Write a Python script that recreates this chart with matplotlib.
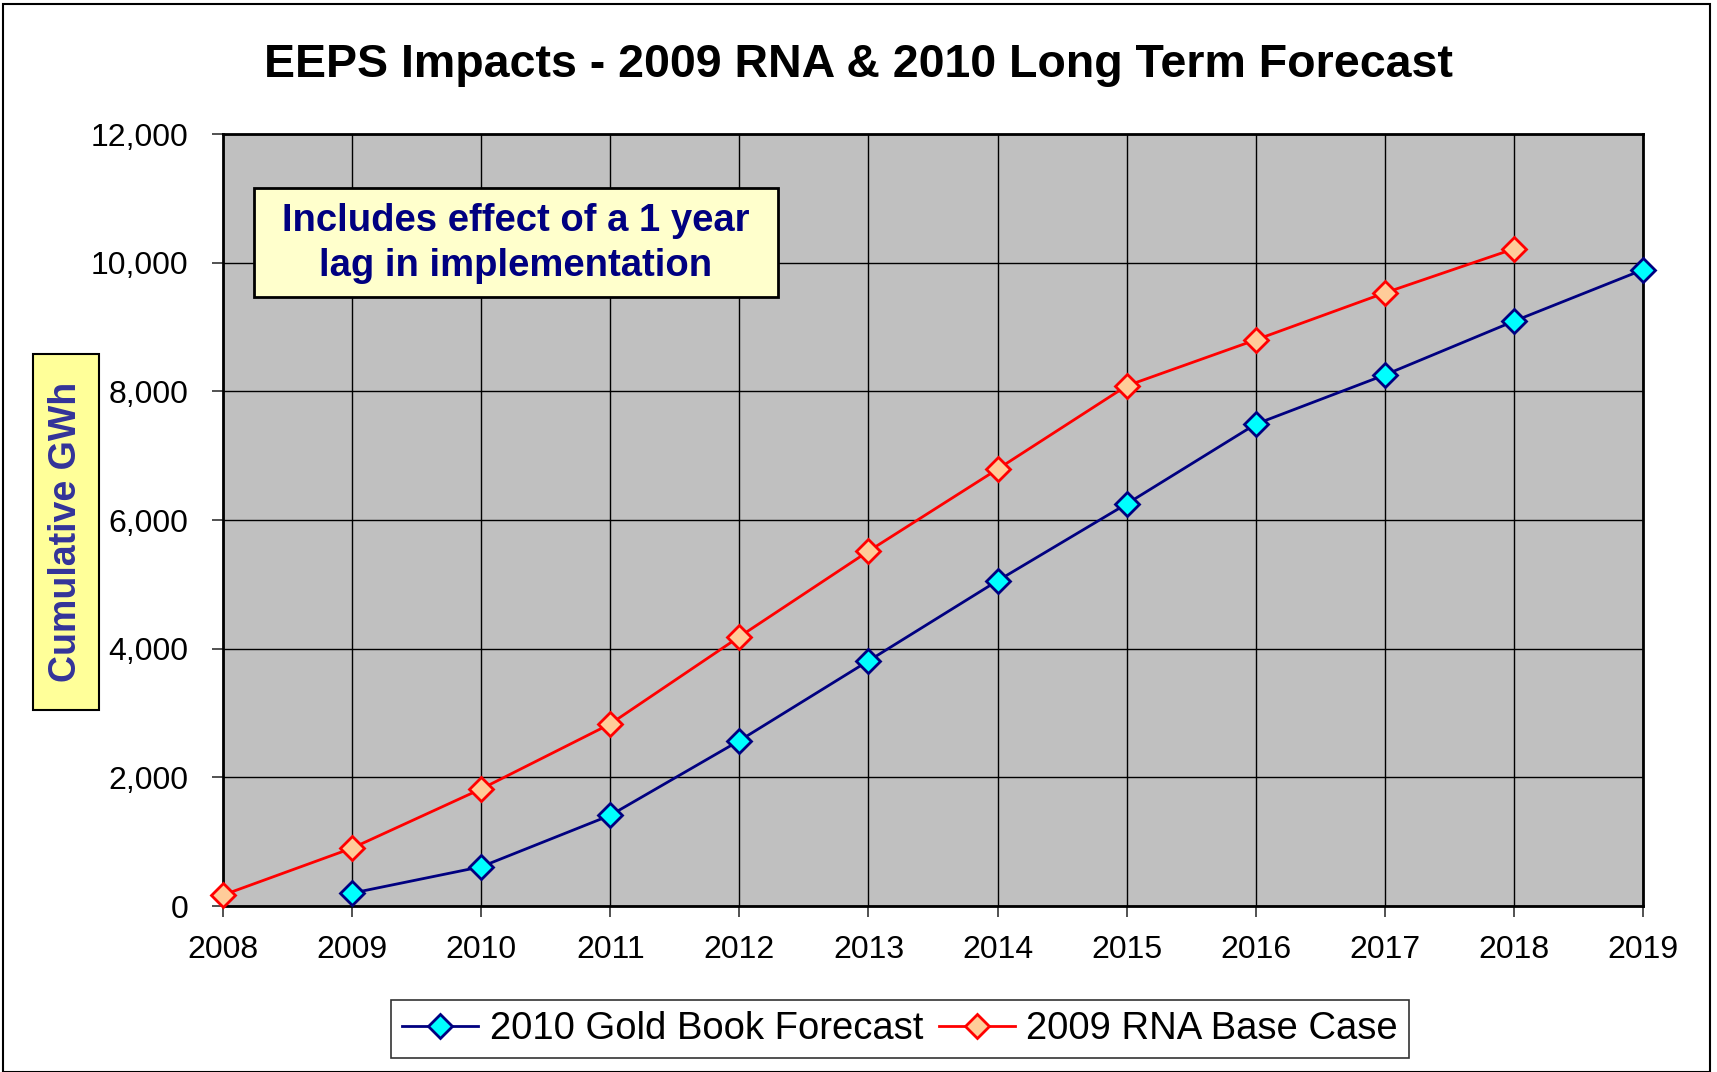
import matplotlib.pyplot as plt
import numpy as np
from matplotlib.patches import Rectangle
from matplotlib.ticker import FuncFormatter

plt.rcParams['font.family'] = ['Liberation Sans', 'DejaVu Sans']

# data
years_gold = [2009, 2010, 2011, 2012, 2013, 2014, 2015, 2016, 2017, 2018, 2019]
gold_book = [200, 610, 1410, 2570, 3810, 5055, 6250, 7490, 8255, 9090, 9890]

years_rna = [2008, 2009, 2010, 2011, 2012, 2013, 2014, 2015, 2016, 2017, 2018]
rna_base = [170, 900, 1820, 2830, 4185, 5515, 6790, 8085, 8800, 9530, 10215]

xticks = list(range(2008, 2020))
yticks = [0, 2000, 4000, 6000, 8000, 10000, 12000]

W, H = 1717, 1072
fig = plt.figure(figsize=(W / 100, H / 100), dpi=100)
ax = fig.add_axes([223 / W, 1 - 906 / H, (1643 - 223) / W, (906 - 134) / H])
ax.set_facecolor('#C0C0C0')

ax.plot(years_gold, gold_book, color='#000080', lw=2, marker='D', ms=12,
        mfc='#00FFFF', mec='#000080', mew=2, label='2010 Gold Book Forecast',
        zorder=5, clip_on=False)
ax.plot(years_rna, rna_base, color='#FF0000', lw=2, marker='D', ms=12,
        mfc='#FFCC99', mec='#FF0000', mew=2, label='2009 RNA Base Case',
        zorder=5, clip_on=False)

ax.set_xlim(2008, 2019)
ax.set_ylim(0, 12000)
ax.set_xticks(xticks)
ax.set_yticks(yticks)
ax.yaxis.set_major_formatter(FuncFormatter(lambda v, p: f'{int(v):,}'))
ax.grid(True, color='black', lw=1)
ax.set_axisbelow(True)
ax.tick_params(axis='both', labelsize=23, length=8, width=1.2, color='#333333')
ax.tick_params(axis='x', pad=13)
ax.tick_params(axis='y', pad=17)
for s in ax.spines.values():
    s.set_color('black')
    s.set_linewidth(2)

# title
fig.text(0.5, 1 - 65 / H, 'EEPS Impacts - 2009 RNA & 2010 Long Term Forecast',
         ha='center', va='center', fontsize=33.5, fontweight='bold')

# note box
ax.add_patch(Rectangle((0.0216, 0.789), 0.391 - 0.0216, 0.930 - 0.789,
                       transform=ax.transAxes, fc='#FFFFCC', ec='black', lw=2, zorder=6))
ax.text(0.206, 0.858, 'Includes effect of a 1 year\nlag in implementation',
        transform=ax.transAxes, ha='center', va='center', fontsize=27.5,
        fontweight='bold', color='#000080', linespacing=1.3, zorder=7)

# y label box
fig.patches.append(Rectangle((33 / W, 1 - 710 / H), 66 / W, 356 / H,
                             transform=fig.transFigure, fc='#FFFF99', ec='black', lw=1.5))
fig.text(66 / W, 1 - 532 / H, 'Cumulative GWh', rotation=90, ha='center', va='center',
         fontsize=27, fontweight='bold', color='#333399')

leg = fig.legend(loc='center', bbox_to_anchor=(900 / W, 43 / H), ncol=2,
                 fontsize=27.5, frameon=True, fancybox=False, edgecolor='black',
                 handlelength=2.0, handletextpad=0.3, columnspacing=0.4,
                 borderpad=0.3, borderaxespad=0.0, markerscale=1.0)
leg.get_frame().set_linewidth(1.2)

# outer chart frame
fig.patches.append(Rectangle((3 / W, 0.0), 1707 / W, 1 - 4 / H,
                             transform=fig.transFigure, fill=False, ec='black', lw=1.5))

plt.savefig('out.png', dpi=100)
